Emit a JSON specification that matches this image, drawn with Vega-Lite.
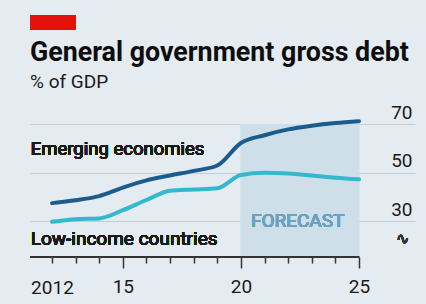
{
  "$schema": "https://vega.github.io/schema/vega-lite/v6.json",
  "autosize": {"type": "none"},
  "width": 385,
  "height": 148,
  "padding": {"left": 30, "right": 11, "top": 109, "bottom": 47},
  "background": "#e4ebf1",
  "config": {
    "view": {"stroke": null},
    "font": "Roboto"
  },
  "title": {
    "text": "General government gross debt",
    "subtitle": "% of GDP",
    "anchor": "start",
    "frame": "group",
    "font": "Roboto",
    "fontSize": 26.8,
    "fontWeight": "bold",
    "color": "#0d0d0d",
    "subtitleFont": "Roboto",
    "subtitleFontSize": 19,
    "subtitleColor": "#1a1a1a",
    "subtitlePadding": 7,
    "offset": 16,
    "dy": 93
  },
  "resolve": {"axis": {"x": "independent", "y": "independent"}},
  "data": {
    "values": [
      {"year": 2012, "series": "Emerging economies", "debt": 37.4},
      {"year": 2013, "series": "Emerging economies", "debt": 38.6},
      {"year": 2014, "series": "Emerging economies", "debt": 40.3},
      {"year": 2015, "series": "Emerging economies", "debt": 43.8},
      {"year": 2016, "series": "Emerging economies", "debt": 46.8},
      {"year": 2017, "series": "Emerging economies", "debt": 48.8},
      {"year": 2018, "series": "Emerging economies", "debt": 50.7},
      {"year": 2019, "series": "Emerging economies", "debt": 52.9},
      {"year": 2020, "series": "Emerging economies", "debt": 62.2},
      {"year": 2021, "series": "Emerging economies", "debt": 65.4},
      {"year": 2022, "series": "Emerging economies", "debt": 67.8},
      {"year": 2023, "series": "Emerging economies", "debt": 69.3},
      {"year": 2024, "series": "Emerging economies", "debt": 70.4},
      {"year": 2025, "series": "Emerging economies", "debt": 71.2},
      {"year": 2012, "series": "Low-income countries", "debt": 29.7},
      {"year": 2013, "series": "Low-income countries", "debt": 30.8},
      {"year": 2014, "series": "Low-income countries", "debt": 31.1},
      {"year": 2015, "series": "Low-income countries", "debt": 34.5},
      {"year": 2016, "series": "Low-income countries", "debt": 38.7},
      {"year": 2017, "series": "Low-income countries", "debt": 42.5},
      {"year": 2018, "series": "Low-income countries", "debt": 43.0},
      {"year": 2019, "series": "Low-income countries", "debt": 43.5},
      {"year": 2020, "series": "Low-income countries", "debt": 49.0},
      {"year": 2021, "series": "Low-income countries", "debt": 49.9},
      {"year": 2022, "series": "Low-income countries", "debt": 49.6},
      {"year": 2023, "series": "Low-income countries", "debt": 48.8},
      {"year": 2024, "series": "Low-income countries", "debt": 47.9},
      {"year": 2025, "series": "Low-income countries", "debt": 47.2}
    ]
  },
  "layer": [
    {
      "mark": {"type": "rect", "color": "#e3120b"},
      "encoding": {
        "x": {"datum": 2011.07, "type": "quantitative", "axis": null},
        "x2": {"datum": 2012.98},
        "y": {"datum": 114.8, "type": "quantitative", "axis": null},
        "y2": {"datum": 109.0}
      }
    },
    {
      "mark": {"type": "rect", "color": "#cfdfea"},
      "encoding": {
        "x": {"datum": 2020, "type": "quantitative", "axis": null},
        "x2": {"datum": 2025},
        "y": {"datum": 70, "type": "quantitative", "axis": null},
        "y2": {"datum": 15.2}
      }
    },
    {
      "mark": {"type": "text", "text": "FORECAST", "font": "Roboto", "fontSize": 19, "color": "#6aa2c2", "align": "center", "baseline": "alphabetic"},
      "encoding": {
        "x": {"datum": 2022.4, "type": "quantitative", "axis": null},
        "y": {"datum": 27.7, "type": "quantitative", "axis": null}
      }
    },
    {
      "mark": {"type": "line", "strokeWidth": 4, "strokeCap": "round", "interpolate": "monotone"},
      "encoding": {
        "x": {
          "field": "year",
          "type": "quantitative",
          "scale": {"domain": [2011.07, 2027.37], "nice": false, "zero": false},
          "axis": {
            "title": null,
            "domain": false,
            "grid": false,
            "values": [2012, 2013, 2014, 2015, 2016, 2017, 2018, 2019, 2020, 2021, 2022, 2023, 2024, 2025],
            "labelExpr": "datum.value == 2012 ? '2012' : datum.value == 2015 ? '15' : datum.value == 2020 ? '20' : datum.value == 2025 ? '25' : ''",
            "labelOverlap": false,
            "labelBound": false,
            "labelFlush": false,
            "labelFont": "Roboto",
            "labelFontSize": 19,
            "labelColor": "#1a1a1a",
            "labelPadding": {"condition": {"test": "datum.value == 2012", "value": 15}, "value": 9},
            "tickColor": "#333333",
            "tickWidth": 1.5,
            "tickSize": {"condition": {"test": "datum.value == 2015 || datum.value == 2020 || datum.value == 2025", "value": 11}, "value": 6}
          }
        },
        "y": {
          "field": "debt",
          "type": "quantitative",
          "scale": {"domain": [15.2, 76.2], "nice": false, "zero": false},
          "axis": {
            "title": null,
            "orient": "right",
            "values": [30, 50, 70],
            "domain": false,
            "ticks": false,
            "grid": true,
            "gridColor": "#c4cdd4",
            "gridWidth": 1.2,
            "labelAlign": "right",
            "labelBaseline": "alphabetic",
            "labelOffset": -6,
            "labelPadding": -3,
            "labelFont": "Roboto",
            "labelFontSize": 19,
            "labelColor": "#1a1a1a"
          }
        },
        "color": {
          "field": "series",
          "type": "nominal",
          "scale": {"domain": ["Emerging economies", "Low-income countries"], "range": ["#1b5c8d", "#33b8cd"]},
          "legend": null
        }
      }
    },
    {
      "mark": {"type": "rule", "color": "#333333", "strokeWidth": 2},
      "encoding": {
        "x": {"datum": 2011.07, "type": "quantitative", "axis": null},
        "x2": {"datum": 2025},
        "y": {"datum": 15.2, "type": "quantitative", "axis": null}
      }
    },
    {
      "mark": {"type": "text", "text": "Emerging economies", "font": "Roboto", "fontSize": 18.5, "color": "#1a1a1a", "align": "left", "baseline": "alphabetic"},
      "encoding": {
        "x": {"datum": 2011.1, "type": "quantitative", "axis": null},
        "y": {"datum": 57.2, "type": "quantitative", "axis": null}
      }
    },
    {
      "mark": {"type": "text", "text": "Low-income countries", "font": "Roboto", "fontSize": 19, "color": "#1a1a1a", "align": "left", "baseline": "alphabetic"},
      "encoding": {
        "x": {"datum": 2011.1, "type": "quantitative", "axis": null},
        "y": {"datum": 20.1, "type": "quantitative", "axis": null}
      }
    },
    {
      "mark": {"type": "text", "text": "∿", "font": "DejaVu Sans", "fontSize": 16, "color": "#333333", "align": "center", "baseline": "middle"},
      "encoding": {
        "x": {"datum": 2026.85, "type": "quantitative", "axis": null},
        "y": {"datum": 22.5, "type": "quantitative", "axis": null}
      }
    }
  ]
}
